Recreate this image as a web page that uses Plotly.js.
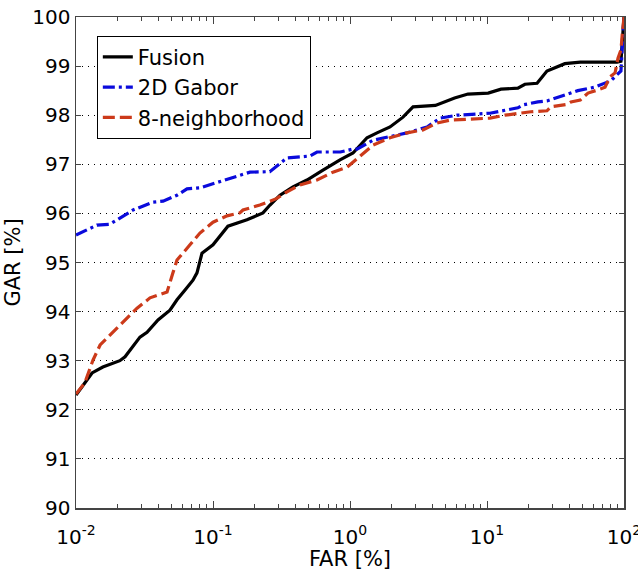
<!DOCTYPE html>
<html>
<head>
<meta charset="utf-8">
<script src="https://cdn.plot.ly/plotly-3.0.1.min.js"></script>
<style>html,body{margin:0;padding:0;background:#fff;}#chart{width:638px;height:571px;}</style>
</head>
<body>
<div id="chart"></div>
<script>
// Fusion (black, solid)
const fusionFAR = [0.01,0.0116,0.0131,0.0157,0.0209,0.0228,0.0293,0.033,0.0397,0.0485,0.0546,0.0625,0.0714,0.0764,0.0831,0.1,0.1285,0.177,0.2316,0.2606,0.3083,0.3836,0.4853,0.6351,0.8453,1.052,1.331,1.574,1.959,2.437,2.884,4.2,5.8,7.26,10.2,12.65,16.8,18.9,23.2,27.4,34,37,48,89,95,100];
const fusionGAR = [92.3,92.55,92.75,92.87,93.0,93.08,93.48,93.58,93.83,94.03,94.24,94.44,94.64,94.79,95.19,95.36,95.74,95.87,96.01,96.17,96.37,96.54,96.68,96.88,97.09,97.23,97.54,97.64,97.76,97.96,98.17,98.2,98.35,98.43,98.45,98.53,98.55,98.63,98.65,98.9,99.0,99.05,99.08,99.08,99.1,100];
// 2D Gabor (blue, dash-dot)
const gaborFAR = [0.01,0.0142,0.0177,0.0261,0.0365,0.0432,0.0546,0.0646,0.0803,0.14,0.186,0.26,0.3467,0.4315,0.51,0.574,0.85,1.05,1.125,1.472,1.959,2.606,3.65,4.54,6.04,10.5,13.5,16.8,18.3,23.5,27.4,33,46,61,80,95,100];
const gaborGAR = [95.56,95.76,95.78,96.07,96.23,96.25,96.37,96.5,96.52,96.73,96.84,96.85,97.13,97.15,97.17,97.25,97.25,97.31,97.31,97.49,97.56,97.64,97.76,97.94,98.0,98.04,98.1,98.15,98.21,98.27,98.29,98.37,98.5,98.57,98.7,98.9,100];
// 8-neighborhood (red, dashed)
const neighFAR = [0.01,0.0116,0.0133,0.015,0.0177,0.022,0.0279,0.0347,0.0397,0.0462,0.051,0.0546,0.0679,0.0803,0.1,0.1265,0.157,0.1655,0.22,0.2477,0.29,0.347,0.4315,0.574,0.751,0.95,1.125,1.472,1.959,2.606,3.41,4.31,5.37,10.5,13.5,20.9,27.4,29.3,38.4,41,48,54.6,63.5,72.7,79,86,90.4,95.1,97,100];
const neighGAR = [92.32,92.55,93.01,93.32,93.52,93.79,94.07,94.28,94.34,94.4,94.79,95.05,95.36,95.6,95.82,95.95,96.01,96.07,96.17,96.23,96.3,96.44,96.58,96.68,96.84,96.94,97.12,97.39,97.54,97.64,97.7,97.84,97.9,97.94,98.0,98.07,98.09,98.17,98.22,98.27,98.31,98.45,98.51,98.57,98.78,98.86,99.16,99.33,99.63,100];

const xTickVals = [0.01,0.1,1,10,100];
const xTickText = ['10<sup>-2</sup>','10<sup>-1</sup>','10<sup>0</sup>','10<sup>1</sup>','10<sup>2</sup>'];
const yTickVals = [90,91,92,93,94,95,96,97,98,99,100];

const minorVals = [];
for (let e = -2; e < 2; e++) for (let m = 2; m <= 9; m++) minorVals.push(m * Math.pow(10, e));

const FONT = 'DejaVu Sans, sans-serif';

const traces = [
  {x: fusionFAR, y: fusionGAR, name: 'Fusion', mode: 'lines', legendgroup: 'a',
   line: {color: '#000000', width: 3.2, dash: 'solid'}},
  {x: gaborFAR, y: gaborGAR, name: '2D Gabor', mode: 'lines', legendgroup: 'b',
   line: {color: '#0a0adc', width: 3.2, dash: '12px,4px,3px,4px'}},
  {x: neighFAR, y: neighGAR, name: '8-neighborhood', mode: 'lines', legendgroup: 'c',
   line: {color: '#cc3a1a', width: 3.2, dash: '12px,5px'}}
];

const layout = {
  width: 638, height: 571,
  margin: {l: 76, r: 14, t: 17, b: 63},
  paper_bgcolor: '#ffffff', plot_bgcolor: '#ffffff',
  font: {family: FONT, size: 20, color: '#000'},
  showlegend: true,
  legend: {x: 0.038, y: 0.962, xanchor: 'left', yanchor: 'top',
    bordercolor: '#000', borderwidth: 1, bgcolor: '#fff',
    font: {family: FONT, size: 21, color: '#000'}, tracegroupgap: 0},
  xaxis: {
    type: 'log', range: [-2, 2], showgrid: false, zeroline: false,
    tickmode: 'array', tickvals: xTickVals, ticktext: xTickText,
    ticks: 'inside', ticklen: 7, tickcolor: '#444', tickwidth: 1,
    showline: true, linecolor: '#444', linewidth: 1.5, mirror: 'ticks',
    minor: {tickmode: 'array', tickvals: minorVals, ticks: 'inside', ticklen: 4, tickcolor: '#444', showgrid: false},
    tickfont: {family: FONT, size: 20, color: '#000'},
    ticklabeloverflow: 'allow', ticklabelstandoff: 10,
    title: {text: 'FAR [%]', font: {family: FONT, size: 21, color: '#000'}, standoff: 9}
  },
  yaxis: {
    range: [90, 100], tickmode: 'array', tickvals: yTickVals,
    showgrid: true, gridcolor: '#000', gridwidth: 1, griddash: '1px,5px', zeroline: false,
    ticks: 'inside', ticklen: 5, tickcolor: '#444',
    showline: true, linecolor: '#444', linewidth: 1.5, mirror: 'ticks',
    tickfont: {family: FONT, size: 20, color: '#000'},
    title: {text: 'GAR [%]', font: {family: FONT, size: 21, color: '#000'}, standoff: 6}
  }
};

Plotly.newPlot('chart', traces, layout, {displayModeBar: false, staticPlot: true});
</script>
</body>
</html>
